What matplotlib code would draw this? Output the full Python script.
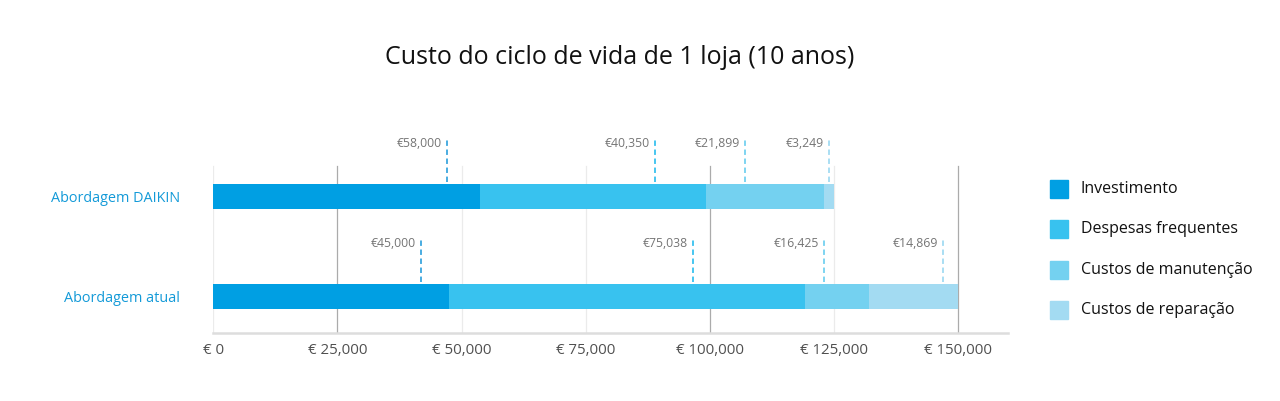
import matplotlib
matplotlib.use("Agg")
import matplotlib.pyplot as plt
from matplotlib.patches import Rectangle

plt.rcParams['font.family'] = ['Open Sans', 'DejaVu Sans']

# dados
categorias = ["Abordagem atual", "Abordagem DAIKIN"]
componentes = ["Investimento", "Despesas frequentes", "Custos de manutenção", "Custos de reparação"]
cores = ["#009fe3", "#38c2ef", "#74d1f0", "#a3dbf2"]

# comprimento desenhado de cada segmento (atual, DAIKIN)
segmentos_atual = [47400, 71700, 12900, 17900]
segmentos_daikin = [53600, 45500, 23900, 2000]

# etiquetas e posição das linhas tracejadas
etiquetas_atual = ["€45,000", "€75,038", "€16,425", "€14,869"]
etiquetas_daikin = ["€58,000", "€40,350", "€21,899", "€3,249"]
marcas_atual = [41900, 96600, 123000, 147000]
marcas_daikin = [47100, 89000, 107100, 124000]

ticks_x = [0, 25000, 50000, 75000, 100000, 125000, 150000]
ticks_rotulos = ["€ 0", "€ 25,000", "€ 50,000", "€ 75,000", "€ 100,000", "€ 125,000", "€ 150,000"]
grelha_escura = [25000, 100000, 150000]

fig = plt.figure(figsize=(12.8, 4.01), dpi=100)
ax = fig.add_axes([213.3 / 1280, 1 - 333 / 401, (1008 - 213.3) / 1280, (333 - 130) / 401])
ax.set_xlim(0, 160000)
ax.set_ylim(-0.363, 1.667)

# grelha vertical
for t in ticks_x:
    cor = "#ababab" if t in grelha_escura else "#ebebeb"
    ax.plot([t, t], [-0.363, 1.307], color=cor, lw=0.9, zorder=1)

dados = [segmentos_atual, segmentos_daikin]
for i, segs in enumerate(dados):
    left = 0
    for j, v in enumerate(segs):
        ax.barh(i, v, left=left, height=0.25, color=cores[j], edgecolor="none", zorder=2)
        left += v

# anotações tracejadas
anot = [(marcas_atual, etiquetas_atual), (marcas_daikin, etiquetas_daikin)]
for i, (pos, labs) in enumerate(anot):
    for j, (x, lab) in enumerate(zip(pos, labs)):
        cor_l = cores[j] if j > 0 else "#3aa6de"
        ax.plot([x, x], [i + 0.15, i + 0.59], color=cor_l, lw=1.3,
                linestyle=(0, (3, 2)), zorder=3)
        ax.annotate(lab, (x, i + 0.53), xytext=(-4, 0), textcoords="offset points",
                    ha="right", va="center", fontsize=8.8, color="#757575")

for s in ["top", "right", "left"]:
    ax.spines[s].set_visible(False)
ax.spines["bottom"].set_color("#dddddd")
ax.spines["bottom"].set_linewidth(1.8)

ax.set_xticks(ticks_x)
ax.set_xticklabels(ticks_rotulos, fontsize=10.8, color="#505050")
ax.tick_params(axis="x", length=0, pad=7)
ax.set_yticks([0, 1])
ax.set_yticklabels(categorias, fontsize=10.4, color="#139ad8")
ax.tick_params(axis="y", length=0, pad=24)

fig.text(620 / 1280, 1 - 57 / 401, "Custo do ciclo de vida de 1 loja (10 anos)",
         ha="center", va="center", fontsize=18, color="#111111")

# legenda
for k, (nome, cor) in enumerate(zip(componentes, cores)):
    yc = 189 + k * 40.3
    fig.patches.append(Rectangle((1050 / 1280, 1 - (yc + 9) / 401), 18 / 1280, 18 / 401,
                                 transform=fig.transFigure, color=cor))
    fig.text(1081 / 1280, 1 - yc / 401, nome, ha="left", va="center",
             fontsize=11.5, color="#111111")

fig.savefig("out.png", dpi=100)
